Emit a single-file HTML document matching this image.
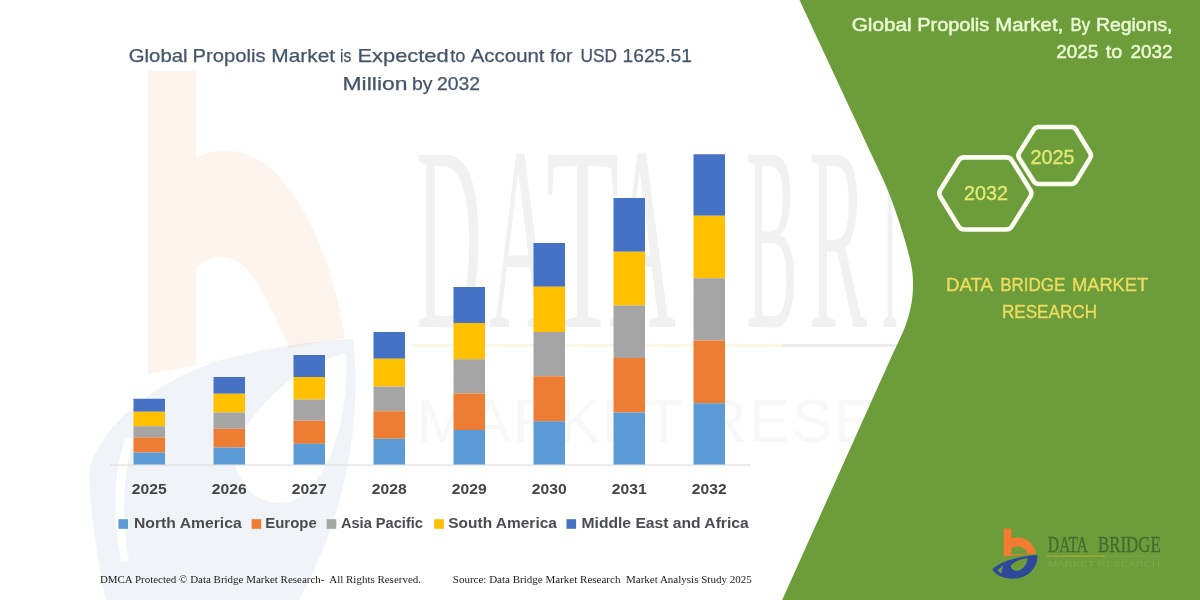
<!DOCTYPE html>
<html><head><meta charset="utf-8"><title>Global Propolis Market</title>
<style>
html,body{margin:0;padding:0;background:#fff;}
body{width:1200px;height:600px;overflow:hidden;font-family:"Liberation Sans",sans-serif;}
svg{display:block}
text{font-family:"Liberation Sans",sans-serif;}
.yr{font-weight:bold;font-size:14.6px;fill:#454545}
.lg{font-weight:bold;font-size:14.8px;fill:#4c4c52}
.ttl{font-size:18.4px;fill:#44546A;stroke:#44546A;stroke-width:0.25px}
.rt{font-size:18.4px;fill:#ebfad4;stroke:#ebfad4;stroke-width:0.5px}
.ft{font-family:"Liberation Serif",serif;font-size:10.3px;fill:#1a1a1a}
.hx{font-size:20.8px;fill:#e0e775;stroke:#e0e775;stroke-width:0.4px}
.lgt{font-family:"Liberation Serif",serif;font-size:22.6px;fill:#47692f;stroke:#47692f;stroke-width:0.35px}
.lgs{font-size:8.6px;fill:#8db06a;opacity:0.5}
.wmt text{font-family:"Liberation Serif",serif;font-size:263px;fill:#f1f1f1}
.wms{font-size:61px;fill:#f8f8f8}
.dbm{font-size:18.9px;fill:#ecdb5e;stroke:#ecdb5e;stroke-width:0.4px}
</style></head>
<body>
<svg width="1200" height="600" viewBox="0 0 1200 600">
<rect x="-15" y="-15" width="1230" height="630" fill="#ffffff"/>
<defs>
<path id="icoO" d="M1003.7,528.6 L1011.4,528.6 L1011.4,538.6 C1022,535 1033,541 1036.2,553.4 L1003.7,556.4 Z M1011.4,548.2 L1011.4,554.6 L1027.6,553.6 C1025.5,547 1018.5,544.3 1011.4,548.2 Z" fill="#f47b30" fill-rule="evenodd"/>
<path id="icoB" d="M992.2,569.6 C1000,561.5 1019,556 1037.4,555 C1038.2,566 1030,577 1016,578.6 C1004,579.4 996,575.4 992.2,569.6 Z M1010.6,565.8 C1014.5,561 1021.5,558.6 1027.6,558.2 C1027,565 1022.2,570.6 1016.6,570.8 C1013,570.8 1011,568.4 1010.6,565.8 Z M997.5,570.5 L1003,565.2 L1001.2,573.5 Z" fill="#2d4a9b" fill-rule="evenodd"/>
<filter id="soft" x="-2%" y="-2%" width="104%" height="104%"><feGaussianBlur stdDeviation="0.45"/></filter>
</defs>
<g filter="url(#soft)">
<!-- WATERMARK -->
<g id="wm">
<path d="M148,71 L196,71 L196,158 C225,143 262,150 290,190 C320,232 338,290 345,338 L148,374 Z M196,268 L196,364 L289,349 C282,330 272,308 258,284 C240,252 215,250 196,268 Z" fill="#f47b30" fill-rule="evenodd" opacity="0.085"/>
<path d="M90,466 C104,425 150,385 215,362 C262,348 310,341 353,339 C360,400 352,470 330,530 C320,560 305,590 292,612 L108,612 C98,560 88,510 90,466 Z M232,452 C255,402 300,364 346,353 C349,420 330,478 296,500 C262,511 239,490 232,452 Z M125,438 C114,472 112,512 121,562 L129,562 C121,512 123,472 134,438 Z" fill="#2d4a9b" fill-rule="evenodd" opacity="0.06"/>
<g class="wmt">
<text x="416" y="327" textLength="66" lengthAdjust="spacingAndGlyphs">D</text>
<text x="489" y="327" textLength="64" lengthAdjust="spacingAndGlyphs">A</text>
<text x="546" y="327" textLength="73" lengthAdjust="spacingAndGlyphs">T</text>
<text x="609" y="327" textLength="67" lengthAdjust="spacingAndGlyphs">A</text>
<text x="746" y="327" textLength="52" lengthAdjust="spacingAndGlyphs">B</text>
<text x="809" y="327" textLength="58" lengthAdjust="spacingAndGlyphs">R</text>
<text x="882" y="327" textLength="16" lengthAdjust="spacingAndGlyphs">I</text>
</g>
<rect x="782" y="344" width="360" height="3" fill="#ececec"/>
<rect x="412" y="344" width="370" height="3" fill="#fbf8e6"/>
<text class="wms" x="417" y="442" textLength="640" lengthAdjust="spacing">MARKET RESEARCH</text>
</g>
<!-- green panel -->
<path d="M794.84,-10 L864.7,140 C865.7,142.2 868.8,148.9 870.9,153.3 C873.0,157.8 875.1,162.2 877.2,166.7 C879.3,171.1 881.4,175.6 883.4,180.0 C885.4,184.4 887.2,188.9 889.0,193.3 C890.8,197.8 892.4,202.2 894.0,206.7 C895.6,211.1 897.1,215.6 898.6,220.0 C900.1,224.4 901.4,228.9 902.8,233.3 C904.1,237.8 905.5,242.2 906.7,246.7 C907.9,251.1 909.2,255.6 910.2,260.0 C911.2,264.4 912.0,268.9 912.5,273.3 C913.0,277.8 913.1,282.2 913.0,286.7 C912.9,291.1 912.6,295.6 912.0,300.0 C911.4,304.4 910.4,308.9 909.3,313.3 C908.1,317.8 906.8,322.2 905.1,326.7 C903.4,331.1 901.3,335.6 899.3,340.0 C897.3,344.4 895.0,348.9 893.0,353.3 C891.0,357.8 889.0,362.2 887.0,366.7 C885.0,371.1 883.0,375.6 881.0,380.0 C879.0,384.4 876.0,391.1 875.0,393.3 L777.7,610 L1215,610 L1215,-10 Z" fill="#6d9d3a"/>
<!-- titles -->
<text class="ttl" x="128.75" y="62" textLength="58.8" lengthAdjust="spacingAndGlyphs">Global</text>
<text class="ttl" x="192.5" y="62" textLength="73.0" lengthAdjust="spacingAndGlyphs">Propolis</text>
<text class="ttl" x="271.25" y="62" textLength="63.8" lengthAdjust="spacingAndGlyphs">Market</text>
<text class="ttl" x="340" y="62" textLength="11.2" lengthAdjust="spacingAndGlyphs">is</text>
<text class="ttl" x="357.5" y="62" textLength="91.2" lengthAdjust="spacingAndGlyphs">Expected</text>
<text class="ttl" x="450.3" y="62" textLength="15.2" lengthAdjust="spacingAndGlyphs">to</text>
<text class="ttl" x="470.75" y="62" textLength="73.8" lengthAdjust="spacingAndGlyphs">Account</text>
<text class="ttl" x="550" y="62" textLength="22.5" lengthAdjust="spacingAndGlyphs">for</text>
<text class="ttl" x="580.5" y="62" textLength="36.5" lengthAdjust="spacingAndGlyphs">USD</text>
<text class="ttl" x="622.5" y="62" textLength="69.5" lengthAdjust="spacingAndGlyphs">1625.51</text>
<text class="ttl" x="342.5" y="89.5" textLength="65.0" lengthAdjust="spacingAndGlyphs">Million</text>
<text class="ttl" x="412" y="89.5" textLength="20.5" lengthAdjust="spacingAndGlyphs">by</text>
<text class="ttl" x="437" y="89.5" textLength="43.0" lengthAdjust="spacingAndGlyphs">2032</text>
<text class="rt" x="851.7" y="31.3" textLength="60.0" lengthAdjust="spacingAndGlyphs">Global</text>
<text class="rt" x="917.25" y="31.3" textLength="72.0" lengthAdjust="spacingAndGlyphs">Propolis</text>
<text class="rt" x="995.25" y="31.3" textLength="68.0" lengthAdjust="spacingAndGlyphs">Market,</text>
<text class="rt" x="1070.5" y="31.3" textLength="19.5" lengthAdjust="spacingAndGlyphs">By</text>
<text class="rt" x="1096" y="31.3" textLength="76.5" lengthAdjust="spacingAndGlyphs">Regions,</text>
<text class="rt" x="1056.25" y="58.3" textLength="42.0" lengthAdjust="spacingAndGlyphs">2025</text>
<text class="rt" x="1105.75" y="58.3" textLength="16.5" lengthAdjust="spacingAndGlyphs">to</text>
<text class="rt" x="1130.5" y="58.3" textLength="42.0" lengthAdjust="spacingAndGlyphs">2032</text>
<!-- axis -->
<rect x="110" y="464.5" width="641" height="1" fill="#d9d9d9"/>
<rect x="133.5" y="398.75" width="31.5" height="13.00" fill="#4472C4"/>
<rect x="133.5" y="411.75" width="31.5" height="14.50" fill="#FFC000"/>
<rect x="133.5" y="426.25" width="31.5" height="11.25" fill="#A5A5A5"/>
<rect x="133.5" y="437.5" width="31.5" height="15.00" fill="#ED7D31"/>
<rect x="133.5" y="452.5" width="31.5" height="12.00" fill="#5B9BD5"/>
<text x="131.85" y="494" class="yr" textLength="34.8" lengthAdjust="spacingAndGlyphs">2025</text>
<rect x="213.5" y="377" width="31.5" height="16.75" fill="#4472C4"/>
<rect x="213.5" y="393.75" width="31.5" height="18.75" fill="#FFC000"/>
<rect x="213.5" y="412.5" width="31.5" height="16.25" fill="#A5A5A5"/>
<rect x="213.5" y="428.75" width="31.5" height="18.75" fill="#ED7D31"/>
<rect x="213.5" y="447.5" width="31.5" height="17.00" fill="#5B9BD5"/>
<text x="211.85" y="494" class="yr" textLength="34.8" lengthAdjust="spacingAndGlyphs">2026</text>
<rect x="293.5" y="355" width="31.5" height="22.00" fill="#4472C4"/>
<rect x="293.5" y="377" width="31.5" height="22.50" fill="#FFC000"/>
<rect x="293.5" y="399.5" width="31.5" height="21.25" fill="#A5A5A5"/>
<rect x="293.5" y="420.75" width="31.5" height="23.00" fill="#ED7D31"/>
<rect x="293.5" y="443.75" width="31.5" height="20.75" fill="#5B9BD5"/>
<text x="291.85" y="494" class="yr" textLength="34.8" lengthAdjust="spacingAndGlyphs">2027</text>
<rect x="373.5" y="332" width="31.5" height="26.75" fill="#4472C4"/>
<rect x="373.5" y="358.75" width="31.5" height="27.75" fill="#FFC000"/>
<rect x="373.5" y="386.5" width="31.5" height="24.75" fill="#A5A5A5"/>
<rect x="373.5" y="411.25" width="31.5" height="27.50" fill="#ED7D31"/>
<rect x="373.5" y="438.75" width="31.5" height="25.75" fill="#5B9BD5"/>
<text x="371.85" y="494" class="yr" textLength="34.8" lengthAdjust="spacingAndGlyphs">2028</text>
<rect x="453.5" y="287" width="31.5" height="36.00" fill="#4472C4"/>
<rect x="453.5" y="323" width="31.5" height="36.25" fill="#FFC000"/>
<rect x="453.5" y="359.25" width="31.5" height="34.25" fill="#A5A5A5"/>
<rect x="453.5" y="393.5" width="31.5" height="36.50" fill="#ED7D31"/>
<rect x="453.5" y="430" width="31.5" height="34.50" fill="#5B9BD5"/>
<text x="451.85" y="494" class="yr" textLength="34.8" lengthAdjust="spacingAndGlyphs">2029</text>
<rect x="533.5" y="243" width="31.5" height="43.75" fill="#4472C4"/>
<rect x="533.5" y="286.75" width="31.5" height="45.25" fill="#FFC000"/>
<rect x="533.5" y="332" width="31.5" height="44.25" fill="#A5A5A5"/>
<rect x="533.5" y="376.25" width="31.5" height="45.00" fill="#ED7D31"/>
<rect x="533.5" y="421.25" width="31.5" height="43.25" fill="#5B9BD5"/>
<text x="531.85" y="494" class="yr" textLength="34.8" lengthAdjust="spacingAndGlyphs">2030</text>
<rect x="613.5" y="198" width="31.5" height="53.75" fill="#4472C4"/>
<rect x="613.5" y="251.75" width="31.5" height="53.75" fill="#FFC000"/>
<rect x="613.5" y="305.5" width="31.5" height="52.50" fill="#A5A5A5"/>
<rect x="613.5" y="358" width="31.5" height="54.50" fill="#ED7D31"/>
<rect x="613.5" y="412.5" width="31.5" height="52.00" fill="#5B9BD5"/>
<text x="611.85" y="494" class="yr" textLength="34.8" lengthAdjust="spacingAndGlyphs">2031</text>
<rect x="693.5" y="154.25" width="31.5" height="61.50" fill="#4472C4"/>
<rect x="693.5" y="215.75" width="31.5" height="62.50" fill="#FFC000"/>
<rect x="693.5" y="278.25" width="31.5" height="62.25" fill="#A5A5A5"/>
<rect x="693.5" y="340.5" width="31.5" height="62.75" fill="#ED7D31"/>
<rect x="693.5" y="403.25" width="31.5" height="61.25" fill="#5B9BD5"/>
<text x="691.85" y="494" class="yr" textLength="34.8" lengthAdjust="spacingAndGlyphs">2032</text>
<!-- legend -->
<rect x="118.4" y="519.2" width="9.6" height="9.6" fill="#5B9BD5"/>
<text class="lg" x="134" y="527.7" textLength="107.7" lengthAdjust="spacingAndGlyphs">North America</text>
<rect x="251.6" y="519.2" width="9.6" height="9.6" fill="#ED7D31"/>
<text class="lg" x="265.2" y="527.7" textLength="51.6" lengthAdjust="spacingAndGlyphs">Europe</text>
<rect x="326.7" y="519.2" width="9.6" height="9.6" fill="#A5A5A5"/>
<text class="lg" x="340.9" y="527.7" textLength="82.1" lengthAdjust="spacingAndGlyphs">Asia Pacific</text>
<rect x="434.2" y="519.2" width="9.6" height="9.6" fill="#FFC000"/>
<text class="lg" x="448.3" y="527.7" textLength="108.6" lengthAdjust="spacingAndGlyphs">South America</text>
<rect x="566.5" y="519.2" width="9.6" height="9.6" fill="#4472C4"/>
<text class="lg" x="581.5" y="527.7" textLength="167.2" lengthAdjust="spacingAndGlyphs">Middle East and Africa</text>
<!-- footer -->
<text class="ft" x="99.9" y="582.6" textLength="321.1" lengthAdjust="spacingAndGlyphs" xml:space="preserve">DMCA Protected © Data Bridge Market Research-  All Rights Reserved.</text>
<text class="ft" x="452.75" y="582.6" textLength="299" lengthAdjust="spacingAndGlyphs" xml:space="preserve">Source: Data Bridge Market Research  Market Analysis Study 2025</text>
<!-- hexagons -->
<g fill="none" stroke="#fbfdf0" stroke-width="4.6" stroke-linejoin="round">
<path d="M940.2,196.5 Q938.3,193.4 940.2,190.3 L958.6,160.5 Q960.5,157.4 964.1,157.4 L1006.4,157.4 Q1010.0,157.4 1011.9,160.5 L1030.5,190.3 Q1032.4,193.4 1030.5,196.5 L1011.9,226.4 Q1010.0,229.5 1006.4,229.5 L964.1,229.5 Q960.5,229.5 958.6,226.4 Z"/>
<path d="M1019.2,158.2 Q1017.5,155.5 1019.2,152.8 L1033.7,129.7 Q1035.4,127.0 1038.6,127.0 L1071.2,127.0 Q1074.4,127.0 1076.1,129.7 L1090.1,152.8 Q1091.8,155.5 1090.1,158.2 L1076.1,181.3 Q1074.4,184.0 1071.2,184.0 L1038.6,184.0 Q1035.4,184.0 1033.7,181.3 Z"/>
</g>
<text class="hx" x="986" y="200" text-anchor="middle" textLength="44" lengthAdjust="spacingAndGlyphs">2032</text>
<text class="hx" x="1052.6" y="163.8" text-anchor="middle" textLength="44" lengthAdjust="spacingAndGlyphs">2025</text>
<text class="dbm" x="946" y="291.4" textLength="47.0" lengthAdjust="spacingAndGlyphs">DATA</text>
<text class="dbm" x="1000.2" y="291.4" textLength="65.2" lengthAdjust="spacingAndGlyphs">BRIDGE</text>
<text class="dbm" x="1072" y="291.4" textLength="76.1" lengthAdjust="spacingAndGlyphs">MARKET</text>
<text class="dbm" x="1001.9" y="318" textLength="95.1" lengthAdjust="spacingAndGlyphs">RESEARCH</text>
<!-- LOGO -->
<g id="logo">
<use href="#icoO"/>
<use href="#icoB"/>
<text x="1048.1" y="551.8" textLength="39.6" lengthAdjust="spacingAndGlyphs" class="lgt">DATA</text>
<text x="1098" y="551.8" textLength="62.8" lengthAdjust="spacingAndGlyphs" class="lgt">BRIDGE</text>
<rect x="1047" y="555.5" width="58" height="1.2" fill="#a9ad3a"/>
<rect x="1105" y="555.6" width="56" height="1" fill="#7f9f6a" opacity="0.7"/>
<text x="1048" y="566.6" textLength="112" lengthAdjust="spacingAndGlyphs" class="lgs">MARKET RESEARCH</text>
</g>
</g>
</svg>
</body></html>
